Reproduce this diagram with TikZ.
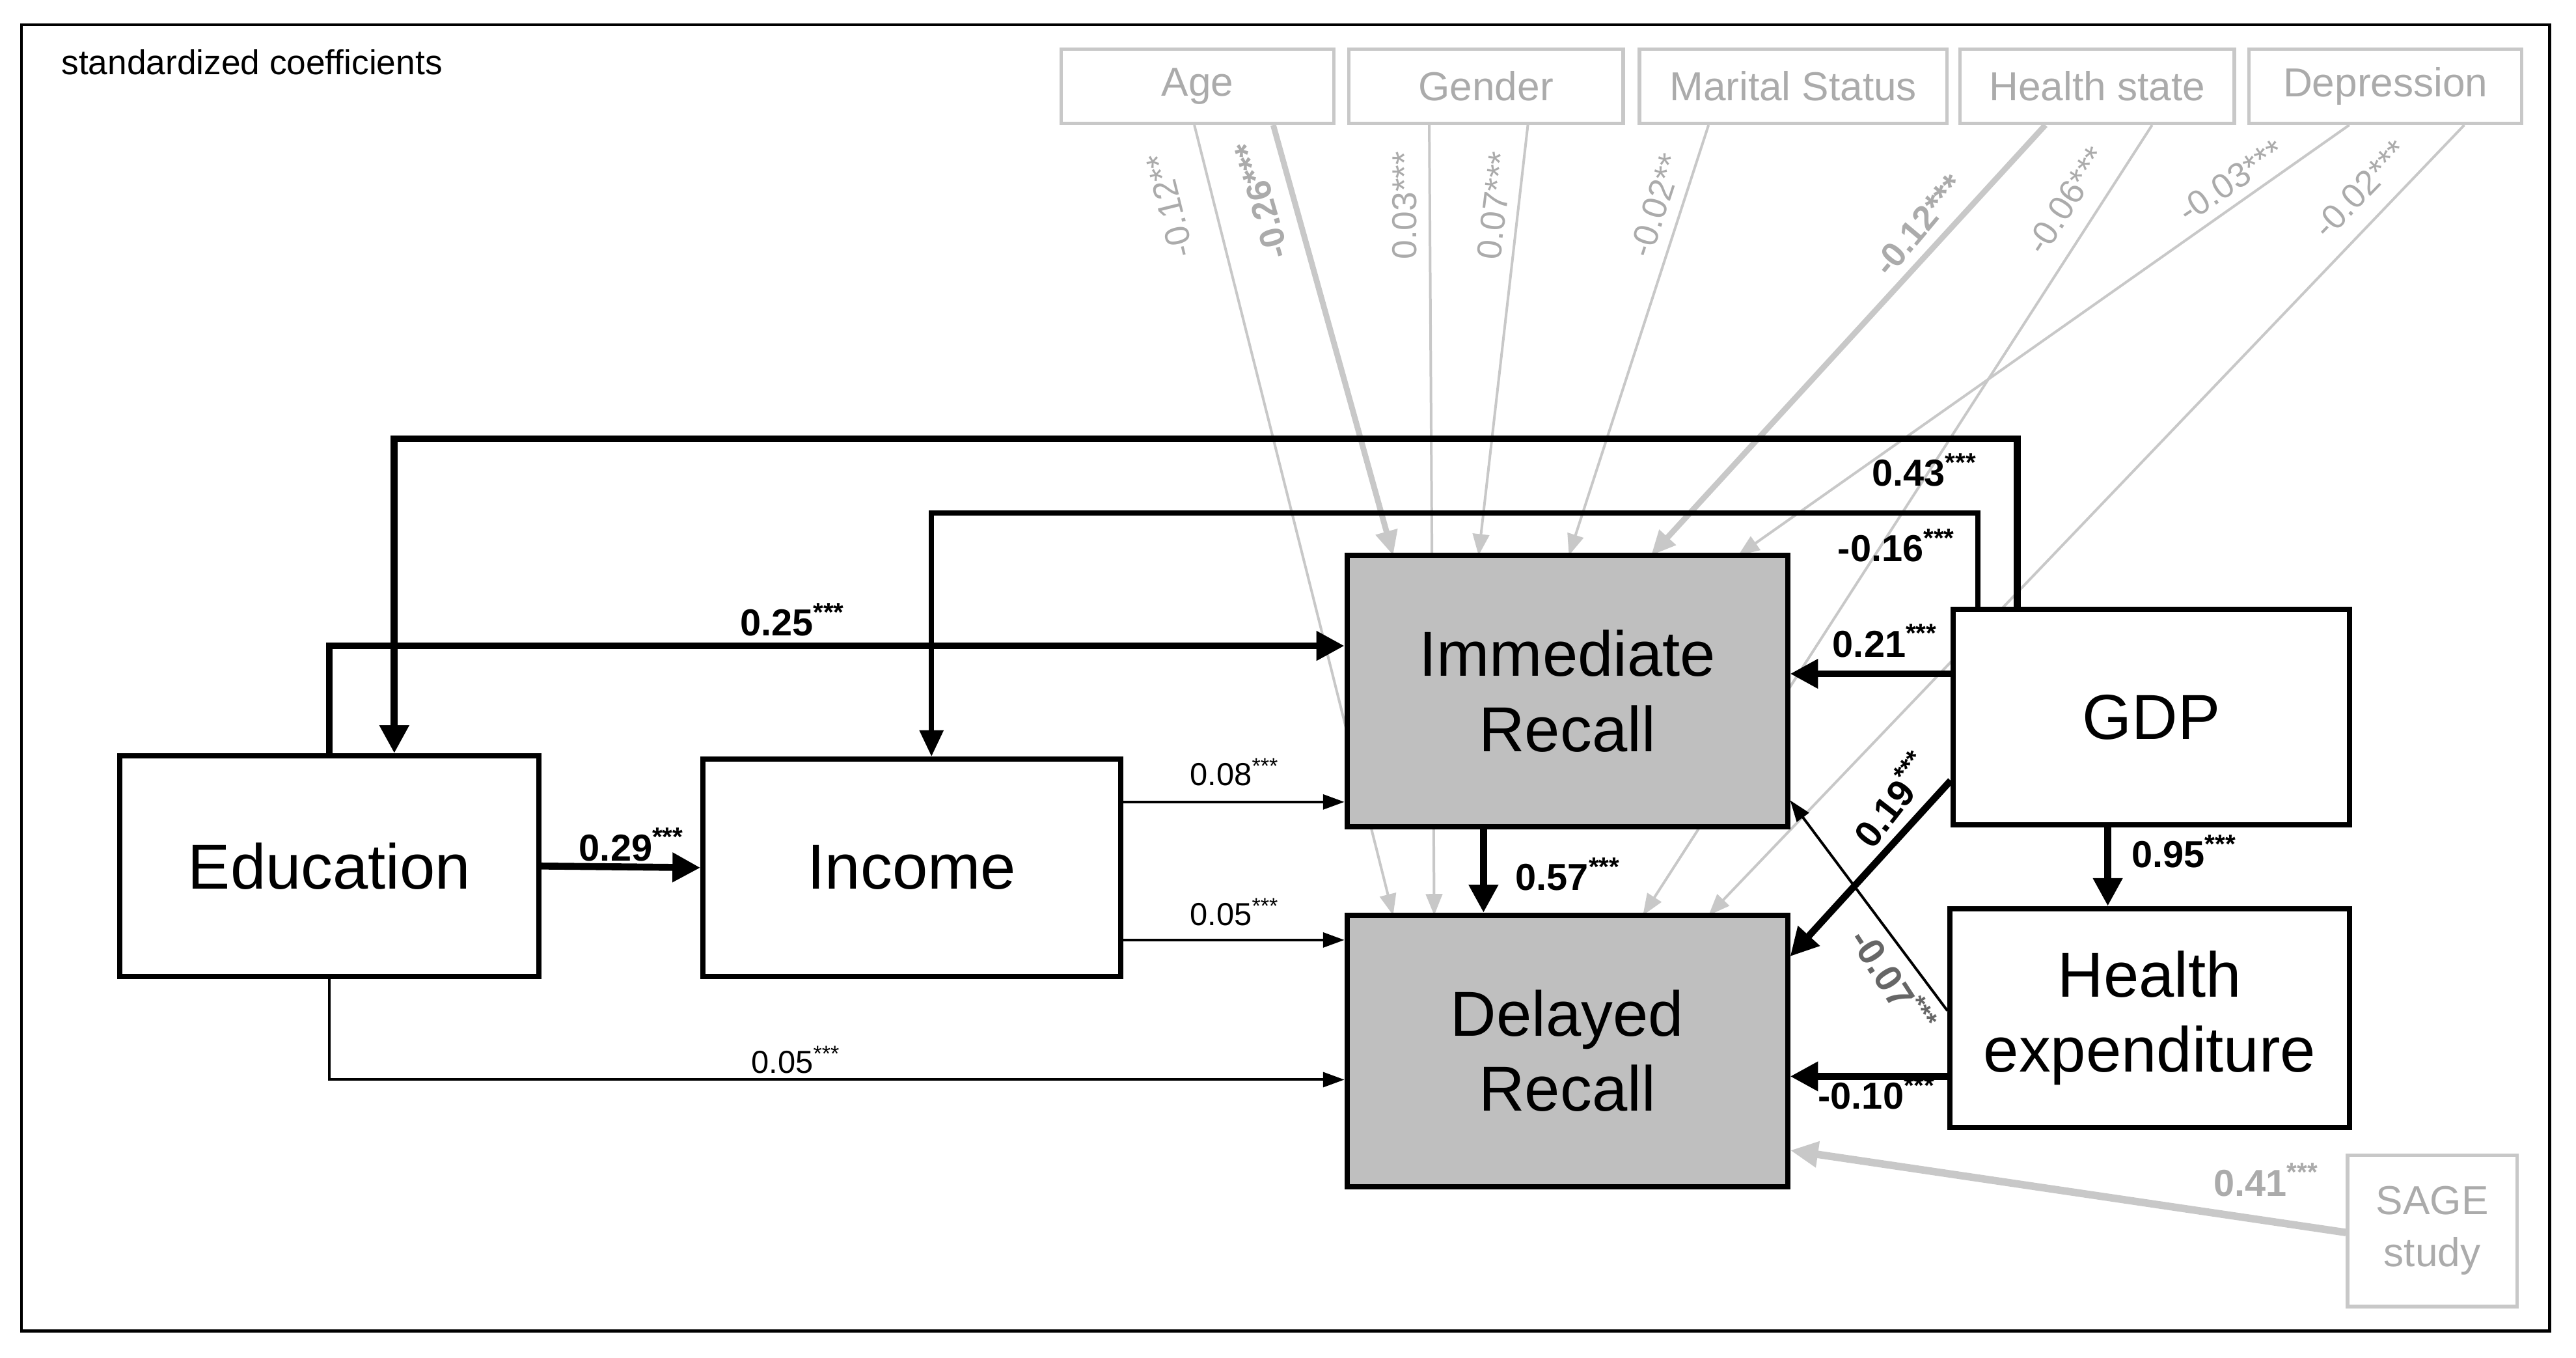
\documentclass[tikz,border=0pt]{standalone}
\usepackage{fontspec}
\setmainfont{Liberation Sans}
\usetikzlibrary{arrows.meta}
\definecolor{lg}{HTML}{C8C8C8}
\definecolor{tg}{HTML}{ABABAB}
\begin{document}
\begin{tikzpicture}[x=0.01cm,y=-0.01cm,
  box/.style={draw=black,line width=0.9pt,fill=white,align=center,inner sep=0pt,font=\fontsize{11}{13}\selectfont},
  dbox/.style={box,fill=black!25},
  gbox/.style={draw=lg,line width=0.6pt,fill=white,align=center,inner sep=0pt,text=tg,font=\fontsize{7}{9}\selectfont,minimum height=0.45cm},
  thk/.style={line width=1.2pt,-{Triangle[length=0.17cm,width=0.17cm]}},
  thn/.style={line width=0.45pt,-{Triangle[length=0.13cm,width=0.09cm]}},
  gthn/.style={draw=lg,line width=0.45pt,-{Triangle[length=0.13cm,width=0.1cm]}},
  gthk/.style={draw=lg,line width=1pt,-{Triangle[length=0.15cm,width=0.13cm]}},
  lb/.style={font=\bfseries\fontsize{6.5}{8}\selectfont,inner sep=1pt},
  lbs/.style={font=\fontsize{5.5}{7}\selectfont,inner sep=1pt},
  gl/.style={font=\fontsize{6}{7}\selectfont,text=tg,inner sep=1pt},
]
\useasboundingbox (0,0) rectangle (1568,826);
\draw[line width=0.5pt] (13,15) rectangle (1552,810);
\node[anchor=west,font=\fontsize{6}{8}\selectfont] (title) at (25,38) {standardized coefficients};

% gray boxes
\node[gbox,minimum width=1.66cm] (age) at (729,52.5) {Age};
\node[gbox,minimum width=1.67cm] (gen) at (904.5,52.5) {Gender};
\node[gbox,minimum width=1.87cm] (mar) at (1091.5,52.5) {Marital Status};
\node[gbox,minimum width=1.67cm] (hst) at (1276.5,52.5) {Health state};
\node[gbox,minimum width=1.66cm] (dep) at (1452,52.5) {Depression};

% named x / y coordinates
\foreach \n/\v in {727/727,775/775,848/848,870/870,873/873,930/930,900/900,1040/1040,955/955,1245/1245,1005/1005,1310/1310,1000/1000,1430/1430,1058/1058,1500/1500,1283/1283,903/903}
  \coordinate (x\n) at (\v,0);
\foreach \n/\v in {393/393,657/657,488/488,572/572,410/410,475/475,582/582,615/615,487/487,655/655,750/750,700/700}
  \coordinate (y\n) at (0,\v);
\coordinate (e1) at (240,267); \coordinate (e2) at (1228,267);
\coordinate (i1) at (567,312); \coordinate (i2) at (1204,312);

% main boxes (positions needed for gray lines)
\path (954,420.5) coordinate (immc) (954,639.5) coordinate (delc);
\coordinate (immn) at (954,338); \coordinate (deln) at (954,557);

% gray lines
\draw[gthn] (age.south -| x727) -- (deln -| x848);
\draw[gthk] (age.south -| x775) -- (immn -| x848);
\draw[gthn] (gen.south -| x870) -- (deln -| x873);
\draw[gthn] (gen.south -| x930) -- (immn -| x900);
\draw[gthn] (mar.south -| x1040) -- (immn -| x955);
\draw[gthk] (hst.south -| x1245) -- (immn -| x1005);
\draw[gthn] (hst.south -| x1310) -- (deln -| x1000);
\draw[gthn] (dep.south -| x1430) -- (immn -| x1058);
\draw[gthn] (dep.south -| x1500) -- (deln -| x1040);

\node[gl,rotate=104] (l1) at (712,125) {-0.12**};
\node[gl,rotate=106,font=\bfseries\fontsize{6}{7}\selectfont] (l2) at (768,122) {-0.26***};
\node[gl,rotate=90] (l3) at (855,125) {0.03***};
\node[gl,rotate=83] (l4) at (910,125) {0.07***};
\node[gl,rotate=72] (l5) at (1008,125) {-0.02**};
\node[gl,rotate=50,font=\bfseries\fontsize{6}{7}\selectfont] (l6) at (1168,137) {-0.12***};
\node[gl,rotate=57] (l7) at (1258,122) {-0.06***};
\node[gl,rotate=34] (l8) at (1358,110) {-0.03***};
\node[gl,rotate=46] (l9) at (1437,115) {-0.02***};

% boxes
\node[box,minimum width=2.55cm,minimum height=1.34cm] (edu) at (200.5,527) {Education};
\node[box,minimum width=2.54cm,minimum height=1.32cm] (inc) at (555,528) {Income};
\node[dbox,minimum width=2.68cm,minimum height=1.65cm] (imm) at (954,420.5) {Immediate\\Recall};
\node[dbox,minimum width=2.68cm,minimum height=1.65cm] (del) at (954,639.5) {Delayed\\Recall};
\node[box,minimum width=2.41cm,minimum height=1.31cm] (gdp) at (1309.5,436.5) {GDP};
\node[box,minimum width=2.43cm,minimum height=1.33cm] (hex) at (1308.5,619.5) {Health\\expenditure};
\node[gbox,minimum width=1.03cm,minimum height=0.92cm,font=\fontsize{7}{9}\selectfont] (sage) at (1480.5,749) {SAGE\\study};

% SAGE arrow
\draw[draw=lg,line width=1.3pt,-{Triangle[length=0.17cm,width=0.15cm]}] (sage.west |- y750) -- (del.east |- y700);
\node[lb,text=tg] (ls) at (1380,718) {0.41\textsuperscript{***}};

% black connectors
\draw[thk] (edu.east) -- (inc.west);
\node[lb] at (385,514) {0.29\textsuperscript{***}};
\draw[thk] (edu.north) |- (imm.west |- y393);
\node[lb] at (483,377) {0.25\textsuperscript{***}};
\draw[thn] (edu.south) |- (del.west |- y657);
\node[lbs] at (485,645) {0.05\textsuperscript{***}};
\draw[thn] (inc.east |- y488) -- (imm.west |- y488);
\node[lbs] at (752,470) {0.08\textsuperscript{***}};
\draw[thn] (inc.east |- y572) -- (imm.west |- y572);
\node[lbs] at (752,555) {0.05\textsuperscript{***}};
\draw[thk] (gdp.north -| e2) -- (e2) -- (e1) -- (edu.north -| e1);
\node[lb] at (1172,286) {0.43\textsuperscript{***}};
\draw[line width=0.9pt,-{Triangle[length=0.16cm,width=0.14cm]}] (gdp.north -| i2) -- (i2) -- (i1) -- (inc.north -| i1);
\node[lb] at (1155,332) {-0.16\textsuperscript{***}};
\draw[thk] (gdp.west |- y410) -- (imm.east |- y410);
\node[lb] at (1148,390) {0.21\textsuperscript{***}};
\draw[thk] (gdp.west |- y475) -- (del.east |- y582);
\node[lb,rotate=52] at (1152,486) {0.19\textsuperscript{***}};
\draw[thn] (hex.west |- y615) -- (imm.east |- y487);
\node[lb,rotate=-57,text=black!60] at (1153,597) {-0.07\textsuperscript{***}};
\draw[thk] (hex.west |- y655) -- (del.east |- y655);
\node[lb] at (1143,665) {-0.10\textsuperscript{***}};
\draw[thk] (gdp.south -| x1283) -- (hex.north -| x1283);
\node[lb] at (1330,518) {0.95\textsuperscript{***}};
\draw[thk] (imm.south -| x903) -- (del.north -| x903);
\node[lb] at (955,532) {0.57\textsuperscript{***}};
\end{tikzpicture}
\end{document}
